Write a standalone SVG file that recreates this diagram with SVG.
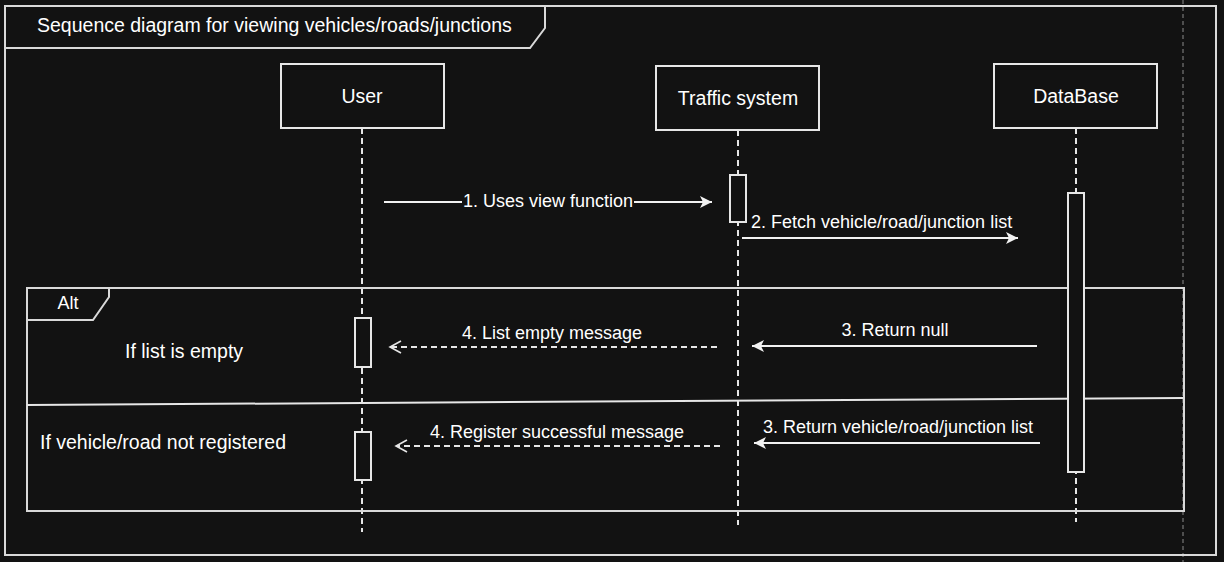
<svg xmlns="http://www.w3.org/2000/svg" width="1224" height="562" viewBox="0 0 1224 562">
<defs>
<style>
.t{font-family:"Liberation Sans",Arial,sans-serif;font-size:18px;fill:#ffffff}
.b{font-size:19.5px}
.c{text-anchor:middle}
.box{fill:#121212;stroke:#e6e6e6;stroke-width:2}
.frame{fill:none;stroke:#d9d9d9;stroke-width:2}
.life{stroke:#e6e6e6;stroke-width:2;stroke-dasharray:6,4;fill:none}
.msg{stroke:#f2f2f2;stroke-width:2;fill:none}
.ret{stroke:#e6e6e6;stroke-width:2;stroke-dasharray:6,4;fill:none}
</style>
<marker id="fa" markerUnits="userSpaceOnUse" markerWidth="14" markerHeight="12" refX="12" refY="6" orient="auto">
<path d="M0,0 L12,6 L0,12 L3,6 Z" fill="#f2f2f2"/>
</marker>
<marker id="oa" markerUnits="userSpaceOnUse" markerWidth="14" markerHeight="14" refX="12" refY="7" orient="auto">
<path d="M1,1 L12,7 L1,13" fill="none" stroke="#e6e6e6" stroke-width="1.6"/>
</marker>
</defs>
<rect width="1224" height="562" fill="#121212"/>
<line x1="1183" y1="0" x2="1183" y2="562" stroke="#8a8a8a" stroke-width="1" stroke-dasharray="4,3"/>
<g id="frame">
<rect class="frame" x="5" y="6" width="1211" height="549"/>
<path class="frame" d="M5,48 L530,48 L545,28 L545,6"/>
<text class="t b" x="37" y="32">Sequence diagram for viewing vehicles/roads/junctions</text>
</g>
<g id="user">
<rect class="box" x="281" y="64" width="163" height="64"/>
<text class="t b c" x="362" y="103">User</text>
<line class="life" x1="362" y1="128" x2="362" y2="532"/>
</g>
<g id="traffic">
<rect class="box" x="656" y="66" width="163" height="64"/>
<text class="t b c" x="738" y="105">Traffic system</text>
<line class="life" x1="738" y1="130" x2="738" y2="525"/>
</g>
<g id="database">
<rect class="box" x="994" y="64" width="163" height="64"/>
<text class="t b c" x="1076" y="103">DataBase</text>
<line class="life" x1="1076" y1="128" x2="1076" y2="522"/>
</g>
<g id="alt">
<rect class="frame" x="27" y="288" width="1157" height="223"/>
<path class="frame" d="M27,320 L93,320 L109,297 L109,288"/>
<text class="t c" x="68" y="309">Alt</text>
<line x1="27" y1="405" x2="1183" y2="398" stroke="#e6e6e6" stroke-width="2"/>
<text class="t b" x="125" y="358">If list is empty</text>
<text class="t b" x="40" y="449">If vehicle/road not registered</text>
</g>
<g id="activations">
<rect class="box" x="730" y="175" width="16" height="47"/>
<rect class="box" x="1068" y="193" width="16" height="279"/>
<rect class="box" x="355" y="318" width="16" height="49"/>
<rect class="box" x="355" y="432" width="16" height="48"/>
</g>
<g id="connectors">
<line class="msg" x1="384" y1="202" x2="712" y2="202" marker-end="url(#fa)"/>
<rect x="462" y="190" width="172" height="22" fill="#121212"/>
<text class="t c" x="548" y="207">1. Uses view function</text>
<line class="msg" x1="742" y1="238" x2="1018" y2="238" marker-end="url(#fa)"/>
<text class="t" x="751" y="228">2. Fetch vehicle/road/junction list</text>
<line class="msg" x1="1037" y1="346" x2="752" y2="346" marker-end="url(#fa)"/>
<text class="t c" x="895" y="336">3. Return null</text>
<line class="ret" x1="717" y1="347" x2="390" y2="347" marker-end="url(#oa)"/>
<text class="t c" x="552" y="339">4. List empty message</text>
<line class="msg" x1="1040" y1="443" x2="754" y2="443" marker-end="url(#fa)"/>
<text class="t c" x="898" y="433">3. Return vehicle/road/junction list</text>
<line class="ret" x1="720" y1="446" x2="396" y2="446" marker-end="url(#oa)"/>
<text class="t c" x="557" y="438">4. Register successful message</text>
</g>
</svg>
